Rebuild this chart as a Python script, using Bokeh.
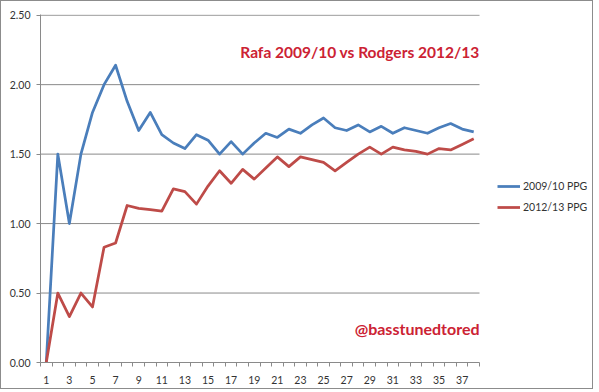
from bokeh.plotting import figure
from bokeh.models import (Range1d, FixedTicker, NumeralTickFormatter, Label,
                          Legend, LegendItem)
from bokeh.embed import file_html
from bokeh.resources import INLINE

# ---- data ----
games = list(range(1, 39))
ppg_2009 = [0.00, 1.50, 1.00, 1.50, 1.80, 2.00, 2.14, 1.88, 1.67, 1.80,
            1.64, 1.58, 1.54, 1.64, 1.60, 1.50, 1.59, 1.50, 1.58, 1.65,
            1.62, 1.68, 1.65, 1.71, 1.76, 1.69, 1.67, 1.71, 1.66, 1.70,
            1.65, 1.69, 1.67, 1.65, 1.69, 1.72, 1.68, 1.66]
ppg_2012 = [0.00, 0.50, 0.33, 0.50, 0.40, 0.83, 0.86, 1.13, 1.11, 1.10,
            1.09, 1.25, 1.23, 1.14, 1.27, 1.38, 1.29, 1.39, 1.32, 1.40,
            1.48, 1.41, 1.48, 1.46, 1.44, 1.38, 1.44, 1.50, 1.55, 1.50,
            1.55, 1.53, 1.52, 1.50, 1.54, 1.53, 1.57, 1.61]
x_labels = list(range(1, 39, 2))
y_ticks = [0.0, 0.5, 1.0, 1.5, 2.0, 2.5]
title_text = "Rafa 2009/10 vs Rodgers 2012/13"
handle_text = "@basstunedtored"
series_names = ["2009/10 PPG", "2012/13 PPG"]

BLUE = "#4a7ebb"
RED = "#be4b48"
TXT_RED = "#cc2233"
GRID = "#8a8a8a"
FONT = "Lato"

# layout: plot area of games spans 439px; frame extends right to hold legend
x_lo, x_hi = 0.5, len(games) + 0.5
px_per_game = 439 / len(games)
frame_w = 552
x_end = x_lo + frame_w / px_per_game

p = figure(width=593, height=389, output_backend="svg", toolbar_location=None,
           x_range=Range1d(x_lo, x_end), y_range=Range1d(0, 2.505),
           min_border_left=39, min_border_right=2, min_border_top=13,
           min_border_bottom=28)
p.outline_line_color = None
p.background_fill_color = "white"
p.border_fill_color = "white"
p.styles = {"border": "1px solid #8c8c8c"}

# axes
xa = p.xaxis[0]
xa.bounds = (x_lo, x_hi)
xa.ticker = FixedTicker(ticks=x_labels, minor_ticks=[g - 0.5 for g in games] + [x_hi])
xa.major_tick_out = 0
xa.major_tick_in = 0
xa.minor_tick_out = 4
xa.minor_tick_in = 0
xa.minor_tick_line_color = GRID
xa.axis_line_color = GRID
xa.major_label_standoff = 9
xa.major_label_text_font = FONT
xa.major_label_text_font_size = "10.5px"
xa.major_label_text_color = "#333333"

ya = p.yaxis[0]
ya.ticker = FixedTicker(ticks=y_ticks, minor_ticks=[])
ya.formatter = NumeralTickFormatter(format="0.00")
ya.major_tick_out = 4
ya.major_tick_in = 0
ya.major_tick_line_color = GRID
ya.minor_tick_line_color = None
ya.axis_line_color = GRID
ya.major_label_standoff = 6
ya.major_label_text_font = FONT
ya.major_label_text_font_size = "10.5px"
ya.major_label_text_color = "#333333"

p.xgrid.grid_line_color = None
p.ygrid.grid_line_color = None

# horizontal gridlines limited to the plot area
gy = y_ticks[1:]
p.segment(x0=[x_lo] * len(gy), y0=gy, x1=[x_hi] * len(gy), y1=gy,
          line_color=GRID, line_width=1)

r1 = p.line(games, ppg_2009, line_color=BLUE, line_width=2.75, line_join="round")
r2 = p.line(games, ppg_2012, line_color=RED, line_width=2.75, line_join="round")

legend = Legend(items=[LegendItem(label=series_names[0], renderers=[r1]),
                       LegendItem(label=series_names[1], renderers=[r2])],
                location=(457, 145), orientation="vertical",
                padding=0, margin=0, spacing=1,
                glyph_width=23, glyph_height=20, label_height=20,
                label_standoff=3, label_text_font=FONT,
                label_text_font_size="10.5px", label_text_color="#333333",
                background_fill_alpha=0, border_line_color=None)
p.add_layout(legend, "center")

p.add_layout(Label(x=x_hi, y=2.236, text=title_text, text_align="right",
                   text_baseline="middle", text_font=FONT, text_font_style="bold",
                   text_font_size="15.5px", text_color=TXT_RED))
p.add_layout(Label(x=x_hi, y=0.245, text=handle_text, text_align="right",
                   text_baseline="middle", text_font=FONT, text_font_style="bold",
                   text_font_size="16px", text_color=TXT_RED))

open("out.html", "w").write(file_html(p, INLINE))
